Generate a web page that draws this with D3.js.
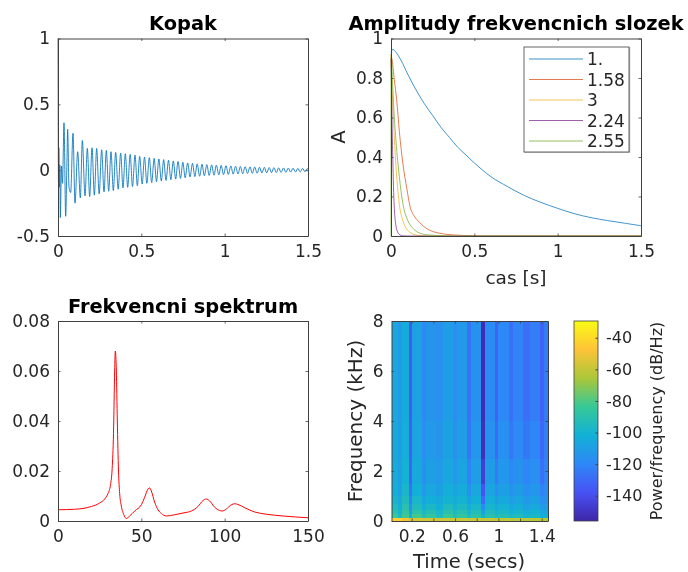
<!DOCTYPE html>
<html><head><meta charset="utf-8">
<script src="https://cdn.jsdelivr.net/npm/d3@7/dist/d3.min.js"></script>
<style>
html,body{margin:0;padding:0;background:#fff}
svg{display:block;filter:blur(0.35px)}
text{font-family:"DejaVu Sans";fill:#262626}
.title{font-weight:bold;fill:#000;text-anchor:middle}
</style></head><body>
<svg id="chart" width="688" height="572"></svg>
<script>
// ---- Kopak: alternating extrema of the decaying signal
const kopakT=[0,0.003,0.005,0.009,0.011,0.014,0.021,0.027,0.036,0.046,0.054,0.058,0.066,0.076,0.09,0.102,0.118,0.134,0.146,0.162,0.176,0.19,0.204,0.218,0.232,0.247,0.262,0.276,0.29,0.304,0.318,0.332,0.346,0.361,0.376,0.39,0.404,0.418,0.433,0.447,0.462,0.476,0.49,0.505,0.519,0.533,0.548,0.562,0.577,0.591,0.605,0.62,0.634,0.648,0.663,0.677,0.692,0.706,0.72,0.735,0.749,0.763,0.778,0.792,0.807,0.821,0.835,0.85,0.864,0.878,0.893,0.907,0.922,0.936,0.95,0.965,0.979,0.993,1.008,1.022,1.037,1.051,1.065,1.08,1.094,1.108,1.123,1.137,1.152,1.166,1.18,1.195,1.209,1.223,1.238,1.252,1.267,1.281,1.295,1.31,1.324,1.338,1.353,1.367,1.382,1.396,1.41,1.425,1.439,1.453,1.468,1.482,1.497,1.5];
const kopakY=[1,-0.1,0.17,-0.13,0.04,-0.36,0.03,-0.1,0.36,-0.35,0.09,0.31,-0.13,-0.17,0.28,-0.25,0.14,-0.21,0.225,-0.195,0.165,-0.2,0.17,-0.19,0.165,-0.18,0.155,-0.165,0.15,-0.16,0.14,-0.155,0.135,-0.145,0.13,-0.135,0.125,-0.13,0.12,-0.125,0.115,-0.118,0.105,-0.105,0.1,-0.1,0.095,-0.095,0.09,-0.088,0.085,-0.082,0.08,-0.078,0.075,-0.072,0.07,-0.068,0.066,-0.063,0.06,-0.058,0.055,-0.052,0.052,-0.049,0.048,-0.046,0.045,-0.042,0.042,-0.04,0.04,-0.038,0.038,-0.036,0.036,-0.034,0.034,-0.032,0.032,-0.03,0.03,-0.029,0.028,-0.027,0.027,-0.025,0.025,-0.024,0.024,-0.023,0.022,-0.021,0.021,-0.02,0.02,-0.019,0.019,-0.018,0.018,-0.017,0.017,-0.016,0.016,-0.015,0.015,-0.014,0.014,-0.013,0.013,-0.012,0.012,0.004];

// ---- Amplitudy
const legendLabels=["1.","1.58","3","2.24","2.55"];
const ampColors=["#0072bd","#d95319","#edb120","#7e2f8e","#77ac30"];
const ampT1=[0,0.01,0.03,0.06,0.1,0.15,0.2,0.25,0.3,0.35,0.4,0.45,0.5,0.6,0.7,0.8,0.9,1,1.1,1.2,1.3,1.4,1.5];
const ampY1=[0.93,0.945,0.93,0.89,0.82,0.74,0.67,0.61,0.55,0.5,0.45,0.41,0.37,0.3,0.25,0.205,0.17,0.14,0.113,0.093,0.078,0.065,0.052];
const ampT2=[0,0.01,0.02,0.034,0.05,0.074,0.095,0.114,0.14,0.17,0.194,0.23,0.27,0.32,0.38,0.45,0.55,1.5];
const ampY2=[0.92,0.87,0.79,0.69,0.53,0.35,0.24,0.15,0.1,0.07,0.05,0.03,0.018,0.01,0.005,0.002,0,0];
const ampT3=[0,0.005,0.01,0.02,0.03,0.036,0.05,0.07,0.09,0.12,0.16,0.22,1.5];
const ampY3=[0.91,0.78,0.68,0.5,0.35,0.28,0.16,0.08,0.04,0.015,0.004,0,0];
const ampT4=[0,0.004,0.008,0.012,0.016,0.02,0.03,0.04,0.05,0.07,0.1,1.5];
const ampY4=[0.9,0.7,0.5,0.35,0.22,0.14,0.05,0.02,0.008,0.001,0,0];
const ampT5=[0,0.001,0.01,0.02,0.03,0.05,0.07,0.1,0.13,0.16,0.2,0.25,0.32,0.4,1.5];
const ampY5=[0,0.92,0.76,0.6,0.48,0.3,0.17,0.08,0.04,0.02,0.008,0.004,0.001,0,0];

// ---- Frekvencni spektrum
const specF=[0,10,20,25,28,30,31.5,32.5,33.3,34,34.4,35,35.6,36.3,37,38,39.5,41,43,46,50,52,54,55,56,58,60,62,65,70,75,80,84,87,89,91,94,97,98.5,101,104,106,108,112,118,125,135,150];
const specA=[0.0045,0.0047,0.0058,0.0072,0.0088,0.011,0.0145,0.021,0.035,0.06,0.068,0.06,0.04,0.02,0.011,0.006,0.0025,0.001,0.002,0.004,0.0065,0.0095,0.0128,0.0132,0.012,0.0075,0.0045,0.003,0.002,0.0025,0.0032,0.004,0.0058,0.0082,0.0088,0.008,0.0055,0.0042,0.004,0.0048,0.0065,0.0069,0.0066,0.0053,0.0036,0.0027,0.002,0.0013];

// ---- Spectrogram: bin edges and dB rows, top row first
const timeEdges=[0.0135,0.074,0.108,0.175,0.206,0.298,0.329,0.422,0.492,0.584,0.615,0.708,0.747,0.84,0.877,0.969,1.0,1.098,1.138,1.23,1.292,1.384,1.424,1.458];
const freqEdges=[8,4,2.5,1.5,1,0.7,0.45,0.3,0.12,0];
const row0=[-106,-112,-104,-134,-108,-119,-114,-116,-110,-117,-112,-127,-115,-153,-118,-132,-119,-128,-121,-128,-123,-132,-124];
const row1=[-105,-111,-103,-133,-107,-117,-112,-114,-108,-115,-110,-125,-113,-152,-115,-129,-116,-125,-119,-125,-120,-130,-123];
const row2=[-104,-110,-101,-131,-105,-115,-109,-112,-106,-112,-107,-121,-110,-146,-111,-124,-113,-120,-115,-120,-117,-127,-121];
const row3=[-102,-109,-98,-127,-102,-112,-106,-109,-103,-108,-104,-115,-106,-138,-107,-117,-109,-115,-111,-116,-113,-122,-118];
const row4=[-99,-106,-94,-122,-98,-107,-102,-105,-100,-104,-100,-109,-102,-130,-103,-111,-105,-110,-107,-112,-109,-117,-115];
const row5=[-95,-103,-90,-116,-94,-103,-97,-102,-95,-100,-96,-104,-98,-118,-99,-105,-101,-106,-103,-108,-105,-112,-111];
const row6=[-90,-100,-86,-109,-88,-98,-92,-98,-90,-96,-91,-99,-93,-108,-95,-100,-97,-102,-99,-104,-101,-106,-107];
const row7=[-84,-96,-82,-102,-82,-92,-86,-94,-84,-92,-86,-94,-88,-100,-90,-96,-92,-98,-94,-100,-97,-102,-102];
const row8=[-44,-44,-50,-58,-56,-57,-57,-58,-58,-58,-59,-59,-59,-60,-60,-61,-61,-61,-62,-62,-62,-63,-63];
const specRows=[row0,row1,row2,row3,row4,row5,row6,row7,row8];
const dbDomain=[-156,-29.4];
const parula=["#3e26a8","#4852f4","#2e87f7","#12b1d6","#37c897","#abc739","#fec338","#f9fb14"];

// ---- Ticks
const kopakXTicks=[0,0.5,1,1.5], kopakYTicks=[-0.5,0,0.5,1];
const ampYTicks=[0,0.2,0.4,0.6,0.8,1];
const specXTicks=[0,50,100,150], specYTicks=[0,0.02,0.04,0.06,0.08];
const sgXTicks=[0.2,0.4,0.6,0.8,1,1.2,1.4], sgXLabels=[0.2,0.6,1,1.4], sgYTicks=[0,2,4,6,8];
const cbTicks=[-40,-60,-80,-100,-120,-140];

const svg=d3.select("#chart");
const FS=17;
const colorOf=d3.scaleLinear().domain(parula.map((c,i)=>dbDomain[0]+(dbDomain[1]-dbDomain[0])*i/(parula.length-1))).range(parula).interpolate(d3.interpolateRgb);

function frame(x,y,xTicks,yTicks,xFmt,yFmt,fs){
  const [l,r]=x.range(),[b,t]=y.range();
  const g=svg.append("g");
  const style=(s,size)=>{s.select(".domain").attr("stroke","#404040").attr("stroke-width",1);
    s.selectAll(".tick line").attr("stroke","#404040").attr("stroke-width",0.8);
    s.selectAll("text").attr("font-size",size).attr("font-family","DejaVu Sans").attr("fill","#333");};
  g.append("g").attr("transform",`translate(0,${b})`).call(d3.axisBottom(x).tickValues(xTicks).tickSizeInner(-2.5).tickSizeOuter(0).tickPadding(9).tickFormat(xFmt)).call(s=>style(s,fs));
  g.append("g").attr("transform",`translate(${l},0)`).call(d3.axisLeft(y).tickValues(yTicks).tickSizeInner(-2.5).tickSizeOuter(0).tickPadding(8).tickFormat(yFmt)).call(s=>style(s,fs));
  g.append("g").attr("transform",`translate(0,${t})`).call(d3.axisTop(x).tickValues(xTicks).tickSizeInner(-2.5).tickSizeOuter(0).tickFormat("")).call(s=>style(s,fs));
  g.append("g").attr("transform",`translate(${r},0)`).call(d3.axisRight(y).tickValues(yTicks).tickSizeInner(-2.5).tickSizeOuter(0).tickFormat("")).call(s=>style(s,fs));
  return g;
}
const fmt=d=>String(d);
function title(x,y,s){svg.append("text").attr("class","title").attr("x",x).attr("y",y).attr("font-size",19.4).text(s);}
function label(x,y,s,rot,size){const t=svg.append("text").attr("text-anchor","middle").attr("font-size",size||19.5).attr("fill","#333");
  if(rot)t.attr("transform",`translate(${x},${y}) rotate(-90)`);else t.attr("x",x).attr("y",y);t.text(s);}
function drawLine(x,y,ts,vs,color,w,op,curve){
  const line=d3.line().x(i=>x(ts[i])).y(i=>y(vs[i])).curve(curve||d3.curveMonotoneX);
  svg.append("path").attr("d",line(d3.range(ts.length))).attr("fill","none").attr("stroke",color).attr("stroke-width",w).attr("stroke-opacity",op||1);
}

// Panel 1
{const x=d3.scaleLinear().domain([0,1.5]).range([58,308]),y=d3.scaleLinear().domain([-0.5,1]).range([236,38.5]);
 drawLine(x,y,kopakT,kopakY,"#0072bd",1,0.85);
 frame(x,y,kopakXTicks,kopakYTicks,fmt,fmt,FS);
 title(183,30,"Kopak");}

// Panel 2
{const x=d3.scaleLinear().domain([0,1.5]).range([391,641]),y=d3.scaleLinear().domain([0,1]).range([236,38.5]);
 const series=[[ampT1,ampY1],[ampT2,ampY2],[ampT3,ampY3],[ampT4,ampY4],[ampT5,ampY5]];
 series.forEach((s,i)=>drawLine(x,y,s[0],s[1],ampColors[i],1,0.75,i===0?d3.curveCatmullRom:d3.curveMonotoneX));
 frame(x,y,kopakXTicks,ampYTicks,fmt,fmt,FS);
 title(516,30,"Amplitudy frekvencnich slozek");
 label(345,137,"A",true);label(516,284,"cas [s]",false,18.5);
 const lg=svg.append("g");
 lg.append("rect").attr("x",525).attr("y",48).attr("width",104.5).attr("height",104).attr("fill","none").attr("stroke","#bbb").attr("stroke-width",1.5);
 lg.append("rect").attr("x",524).attr("y",47).attr("width",105).attr("height",105).attr("fill","#fff").attr("stroke","#404040").attr("stroke-width",0.8);
 legendLabels.forEach((s,i)=>{const cy=59+i*20.5;
  lg.append("line").attr("x1",529).attr("x2",583).attr("y1",cy).attr("y2",cy).attr("stroke",ampColors[i]).attr("stroke-width",0.9).attr("stroke-opacity",.85);
  lg.append("text").attr("x",587).attr("y",cy+6).attr("font-size",17).attr("fill","#111").text(s);});}

// Panel 3
{const x=d3.scaleLinear().domain([0,150]).range([58,308]),y=d3.scaleLinear().domain([0,0.08]).range([521,321]);
 drawLine(x,y,specF,specA,"#ff0000",1);
 frame(x,y,specXTicks,specYTicks,fmt,fmt,FS);
 title(183,313,"Frekvencni spektrum");}

// Panel 4
{const x=d3.scaleLinear().domain([timeEdges[0],timeEdges[timeEdges.length-1]]).range([391.5,548]),y=d3.scaleLinear().domain([0,8]).range([521,321]);
 specRows.forEach((row,r)=>{
   svg.append("g").attr("shape-rendering","crispEdges").selectAll("rect").data(row).join("rect")
    .attr("x",(d,c)=>x(timeEdges[c])).attr("width",(d,c)=>x(timeEdges[c+1])-x(timeEdges[c]))
    .attr("y",y(freqEdges[r])).attr("height",y(freqEdges[r+1])-y(freqEdges[r]))
    .attr("fill",d=>colorOf(d));
 });
 frame(x,y,sgXTicks,sgYTicks,d=>sgXLabels.includes(d)?String(d):"",fmt,FS);
 label(362,421,"Frequency (kHz)",true,20);label(469,568,"Time (secs)",false,19.5);

 // Colorbar
 const cb=d3.scaleLinear().domain(dbDomain).range([521,321]);
 const gid="cbgrad";const grad=svg.append("defs").append("linearGradient").attr("id",gid).attr("x1",0).attr("x2",0).attr("y1",1).attr("y2",0);
 parula.forEach((c,i)=>grad.append("stop").attr("offset",i/(parula.length-1)).attr("stop-color",c));
 svg.append("rect").attr("x",574).attr("y",321).attr("width",24).attr("height",200).attr("fill",`url(#${gid})`).attr("stroke","#404040").attr("stroke-width",0.8);
 const ax=svg.append("g").attr("transform","translate(598,0)").call(d3.axisRight(cb).tickValues(cbTicks).tickSizeInner(-2.5).tickSizeOuter(0).tickPadding(8).tickFormat(fmt));
 ax.select(".domain").attr("stroke","none");ax.selectAll(".tick line").attr("stroke","#404040");
 ax.selectAll("text").attr("font-size",16).attr("font-family","DejaVu Sans").attr("fill","#333");
 label(662,421,"Power/frequency (dB/Hz)",true,16);}
</script>
</body></html>
